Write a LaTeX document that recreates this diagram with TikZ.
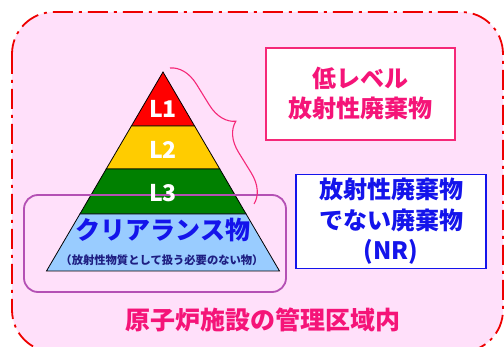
\documentclass[tikz,border=0pt]{standalone}
\usepackage{fontspec}
\newfontfamily\jp{Noto Sans CJK JP}
\usetikzlibrary{decorations.pathreplacing}
\definecolor{bgpink}{RGB}{255,224,250}
\definecolor{framered}{RGB}{238,0,0}
\definecolor{pinktxt}{RGB}{245,20,120}
\definecolor{pinkline}{RGB}{245,40,120}
\definecolor{lonered}{RGB}{255,0,0}
\definecolor{ltwoyel}{RGB}{255,204,0}
\definecolor{lthreegrn}{RGB}{0,128,0}
\definecolor{clrblue}{RGB}{153,204,255}
\definecolor{txtblue}{RGB}{20,20,235}
\definecolor{navytxt}{RGB}{30,30,130}
\definecolor{purp}{RGB}{180,80,180}
\tikzset{
  band/.style={draw=black, line width=0.8pt},
  lvl/.style={text=white, font=\jp\bfseries\fontsize{23}{25}\selectfont},
  wbox/.style={draw, fill=white, line width=1.6pt, inner sep=0pt, align=center},
}
\begin{document}
\begin{tikzpicture}[x=1pt,y=-1pt]
\useasboundingbox (0,0) rectangle (504,347);
\clip (0,0) rectangle (504,347);
% outer frame
\draw[framered, fill=bgpink, line width=1.8pt, dash pattern=on 20pt off 6pt on 3pt off 6pt, rounded corners=42pt] (12,12) rectangle (503,352);
% pyramid coordinates
\coordinate (apex) at (163,72);
\coordinate (aL) at (131.4,126); \coordinate (aR) at (194.6,126);
\coordinate (bL) at (106.2,169); \coordinate (bR) at (219.8,169);
\coordinate (cL) at (79.9,214);  \coordinate (cR) at (246.1,214);
\coordinate (dL) at (46.5,271);  \coordinate (dR) at (279.5,271);
\draw[band, fill=lonered] (apex) -- (aR) -- (aL) -- cycle;
\draw[band, fill=ltwoyel] (aL) -- (aR) -- (bR) -- (bL) -- cycle;
\draw[band, fill=lthreegrn] (bL) -- (bR) -- (cR) -- (cL) -- cycle;
\draw[band, fill=clrblue] (cL) -- (cR) -- (dR) -- (dL) -- cycle;
% clearance frame
\node[draw=purp, line width=1.8pt, rounded corners=14pt, minimum width=262pt, minimum height=97pt, inner sep=0pt] (clrframe) at (155,243.5) {};
% level labels
\node[lvl] (l1) at (163,109) {L1};
\node[lvl] (l2) at (163,150) {L2};
\node[lvl] (l3) at (163,193) {L3};
\node[text=txtblue, font=\jp\bfseries\fontsize{25}{27}\selectfont] (clr) at (163,230) {クリアランス物};
\node[text=navytxt, font=\jp\bfseries\fontsize{11.3}{12}\selectfont] (clrsub) at (162,260) {（放射性物質として扱う必要のない物）};
% brace
\coordinate (bt) at (170,68);
\coordinate (bb) at (254,204);
\draw[pinkline, line width=1.1pt, decorate, decoration={brace, amplitude=28pt, aspect=0.5}] (bt) -- (bb);
% boxes
\node[wbox, draw=pinkline, text=pinktxt, minimum width=189pt, minimum height=92pt, font=\jp\bfseries\fontsize{24}{30}\selectfont] (llw) at (360.5,94) {低レベル\\放射性廃棄物};
\node[wbox, draw=txtblue, text=txtblue, minimum width=190pt, minimum height=94pt, font=\jp\bfseries\fontsize{24}{30.5}\selectfont] (nr) at (391,221.5) {放射性廃棄物\\でない廃棄物\\(NR)};
% bottom label
\node[text=pinktxt, font=\jp\bfseries\fontsize{25}{27}\selectfont] (area) at (263,320) {原子炉施設の管理区域内};
\end{tikzpicture}
\end{document}
